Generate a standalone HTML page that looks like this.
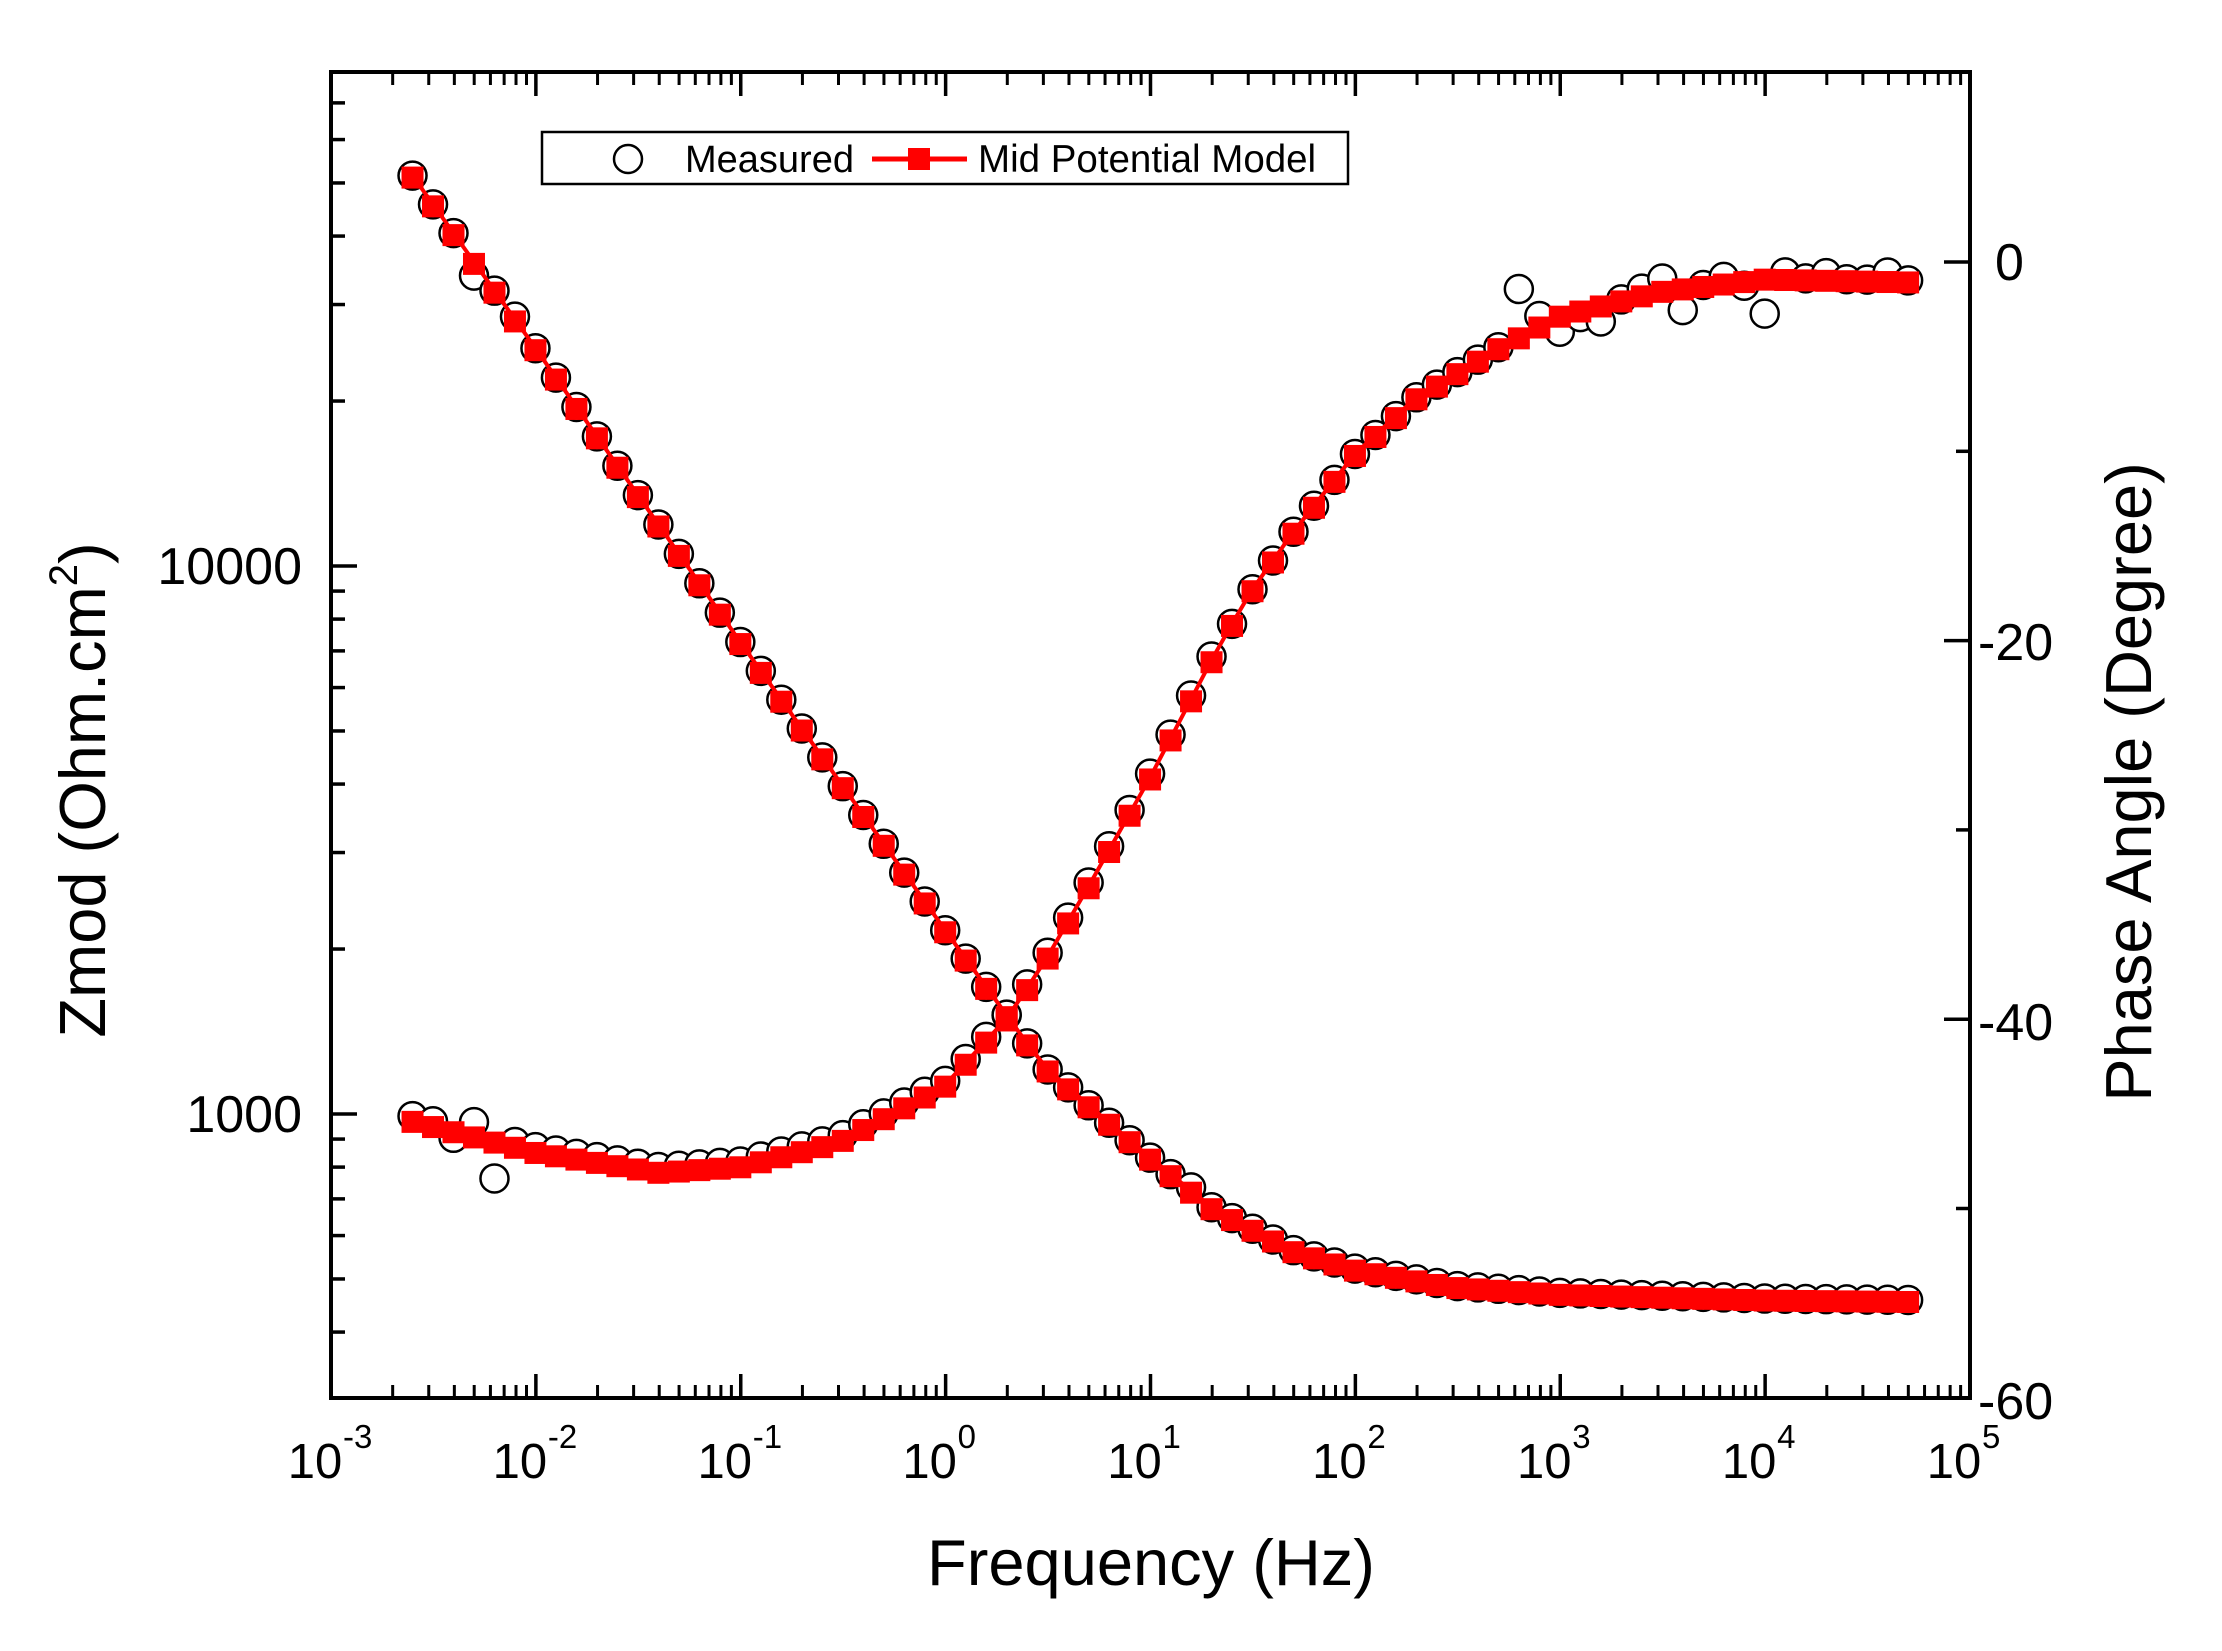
<!DOCTYPE html>
<html><head><meta charset="utf-8"><style>
html,body{margin:0;padding:0;background:#fff;}
svg{display:block;font-family:"Liberation Sans",Arial,sans-serif;}
</style></head><body>
<svg id="s" width="2222" height="1651" viewBox="0 0 2222 1651" xmlns="http://www.w3.org/2000/svg">
<rect width="2222" height="1651" fill="#fff"/>
<g id="data"></g>
<g id="axes"></g>
<!-- legend -->
<rect x="542" y="132" width="806" height="52" fill="#fff" stroke="#000" stroke-width="2.5"/>
<circle cx="628" cy="159" r="14" fill="none" stroke="#000" stroke-width="2.5"/>
<text x="685" y="172" font-size="38">Measured</text>
<line x1="872" y1="159" x2="967" y2="159" stroke="#f00" stroke-width="5"/>
<rect x="908" y="148" width="22" height="22" fill="#f00"/>
<text x="978" y="172" font-size="38.5">Mid Potential Model</text>
<!-- axis labels -->
<g font-size="52" text-anchor="end">
<text x="302" y="584">10000</text>
<text x="302" y="1132">1000</text>
</g>
<g font-size="52">
<text x="1995" y="280">0</text>
<text x="1978" y="660">-20</text>
<text x="1978" y="1040">-40</text>
<text x="1978" y="1419">-60</text>
</g>
<g id="xl" font-size="49"></g>
<text x="1151" y="1585" font-size="65" text-anchor="middle">Frequency (Hz)</text>
<text transform="translate(105,790) rotate(-90)" font-size="65" text-anchor="middle">Zmod (Ohm.cm<tspan font-size="40" dy="-28">2</tspan><tspan dy="28">)</tspan></text>
<text transform="translate(2151,782) rotate(-90)" font-size="65" text-anchor="middle">Phase Angle (Degree)</text>
</svg>
<script>
var NS="http://www.w3.org/2000/svg";
var L=331,R=1970,T=72,B=1398,DEC=(R-L)/8;
function X(lf){return L+(lf+3)*DEC;}
function YZ(lz){return 566-(lz-4)*548;}
function YP(p){return 262-p*18.93;}
function el(p,n,a){var e=document.createElementNS(NS,n);for(var k in a)e.setAttribute(k,a[k]);p.appendChild(e);return e;}
var ax=document.getElementById('axes'),dg=document.getElementById('data');
el(ax,'rect',{x:L,y:T,width:R-L,height:B-T,fill:'none',stroke:'#000','stroke-width':4});
for(var d=-3;d<=5;d++){
  [B,T].forEach(function(y0){var s=y0==B?-1:1;
    el(ax,'line',{x1:X(d),x2:X(d),y1:y0,y2:y0+s*24,stroke:'#000','stroke-width':3.5});
    if(d<5)for(var m=2;m<=9;m++){var x=X(d+Math.log10(m));el(ax,'line',{x1:x,x2:x,y1:y0,y2:y0+s*13,stroke:'#000','stroke-width':3});}
  });
}
var xl=document.getElementById('xl');
for(var d=-3;d<=5;d++){var t=el(xl,'text',{x:X(d)-16,y:1478,'text-anchor':'middle'});t.textContent='10';
 var sp=el(xl,'text',{x:X(d)+12,y:1448,'font-size':33});sp.textContent=(d<0?'-':'')+Math.abs(d);}
for(var lz=2;lz<=4;lz++)for(var m=1;m<=9;m++){var v=lz+Math.log10(m);var y=YZ(v);if(y<T+2||y>B-2)continue;
 el(ax,'line',{x1:L,x2:L+(m==1?26:14),y1:y,y2:y,stroke:'#000','stroke-width':3.5});}
for(var p=10;p>=-60;p-=10){var y=YP(p);if(y<T+2||y>B-2)continue;
 el(ax,'line',{x1:R,x2:R-(p%20==0?26:14),y1:y,y2:y,stroke:'#000','stroke-width':3.5});}
var PH=[[0.0025,790],[0.01,812],[0.04,826],[0.1,822],[0.3,805],[1,765],[2,718],[3,680],[5,625],[10,548],[20,465],[30,420],[50,375],[100,320],[200,280],[500,245],[1000,222],[3000,205],[10000,196],[50000,198]];
var ZM=[[0.0025,123],[0.01,245],[0.1,452],[1,655],[2,715],[3,750],[5,778],[10,815],[20,850],[50,880],[100,893],[300,905],[1000,910],[10000,914],[50000,915]];
function interp(tab,lf){for(var i=0;i<tab.length-1;i++){var a=Math.log10(tab[i][0]),b=Math.log10(tab[i+1][0]);
 if(lf<=b||i==tab.length-2){var t=(lf-a)/(b-a);return tab[i][1]+t*(tab[i+1][1]-tab[i][1]);}}}
function ph(y){return -(y-185)*20/267;}
function lzv(y){return 4+(398-y)/386;}
var pts=[];
for(var k=0;k<=73;k++){var lf=Math.log10(0.0025)+k*0.1;if(lf>Math.log10(50000)+0.01)break;pts.push(lf);}
var noiseP={2:-0.6,3:0.5,4:-2.2,54:2.5,55:0.5,56:-0.9,57:-0.4,58:-0.9,60:0.3,61:0.6,62:-1.2,64:0.3,65:-0.3,66:-1.9,67:0.3,69:0.3,72:0.4};
var noiseZ={3:-0.025,5:0.005,38:0.006};
var lineZ='',lineP='';
pts.forEach(function(lf,i){
 var x=X(lf);var yz=YZ(lzv(interp(ZM,lf)));var yp=YP(ph(interp(PH,lf)));
 lineZ+=(i?'L':'M')+x.toFixed(1)+' '+yz.toFixed(1);lineP+=(i?'L':'M')+x.toFixed(1)+' '+yp.toFixed(1);
});
pts.forEach(function(lf,i){var x=X(lf);
 var yz=YZ(lzv(interp(ZM,lf))+(noiseZ[i]||0));var yp=YP(ph(interp(PH,lf))+(noiseP[i]||0)+ (i<40?0.2:0));
 el(dg,'circle',{cx:x,cy:yz,r:14,fill:'#fff',stroke:'#000','stroke-width':2.5});
 el(dg,'circle',{cx:x,cy:yp,r:14,fill:'#fff',stroke:'#000','stroke-width':2.5});
});
el(dg,'path',{d:lineZ,fill:'none',stroke:'#f00','stroke-width':4});
el(dg,'path',{d:lineP,fill:'none',stroke:'#f00','stroke-width':4});
pts.forEach(function(lf){var x=X(lf);
 var yz=YZ(lzv(interp(ZM,lf)));var yp=YP(ph(interp(PH,lf)));
 el(dg,'rect',{x:x-11,y:yz-9,width:22,height:22,fill:'#f00'});
 el(dg,'rect',{x:x-11,y:yp-9,width:22,height:22,fill:'#f00'});
});
</script>
</body></html>
